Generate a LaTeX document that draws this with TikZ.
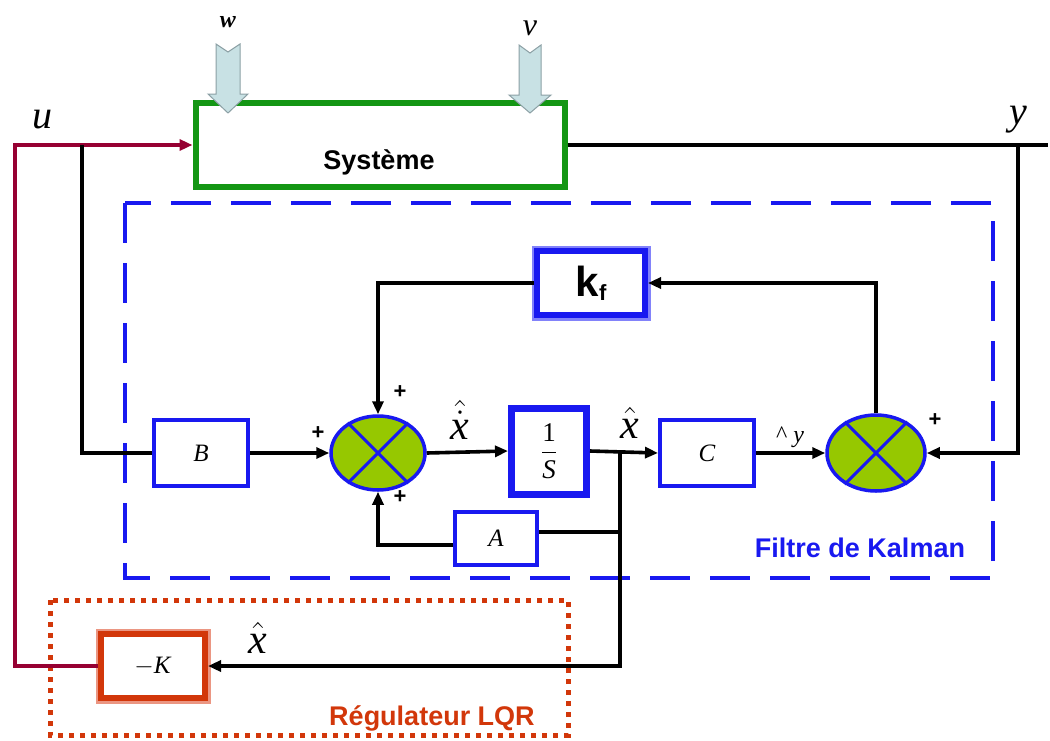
\RequirePackage{fix-cm}
\documentclass[tikz,border=0pt]{standalone}
\usepackage{amsmath}
\usepackage{fontspec}
\setmainfont{Liberation Serif}
\setsansfont{Liberation Sans}
\usetikzlibrary{arrows.meta,shapes.geometric,calc}
\definecolor{sysgreen}{RGB}{20,150,20}
\definecolor{kblue}{RGB}{25,25,240}
\definecolor{kbluelight}{RGB}{130,130,250}
\definecolor{sumgreen}{RGB}{150,200,0}
\definecolor{lqrred}{RGB}{210,55,10}
\definecolor{lqrlight}{RGB}{235,150,130}
\definecolor{ured}{RGB}{150,0,50}
\definecolor{noisefill}{RGB}{200,225,228}
\definecolor{noisedraw}{RGB}{140,160,165}
\newcommand{\xit}{\text{\itshape x}}
\begin{document}
\begin{tikzpicture}[x=1pt,y=-1pt,
 blk/.style={draw=kblue, line width=4pt, fill=white, rectangle, inner sep=0pt, font=\fontsize{25}{25}\selectfont\itshape},
 sumnode/.style={ellipse, draw=kblue, line width=3.5pt, fill=sumgreen, inner sep=0pt},
 sig/.style={line width=3.6pt, draw=black},
 arr/.style={sig, -{Triangle[length=13pt,width=11pt]}},
 plus/.style={font=\sffamily\bfseries\fontsize{22}{22}\selectfont, inner sep=0pt},
 lab/.style={font=\fontsize{42}{42}\selectfont, inner sep=0pt},
 noise/.style={draw=noisedraw, fill=noisefill, line width=1pt},
]
\useasboundingbox (0,0) rectangle (1050,740);

% frames
\draw[kblue, line width=4pt, dash pattern=on 40pt off 20pt] (125,203) rectangle (993,578);
\draw[lqrred, line width=5pt, dash pattern=on 5pt off 6pt] (50,600) rectangle (568,735);

% system
\node[draw=sysgreen, line width=6pt, minimum width=369pt, minimum height=84pt, inner sep=0pt] (sys) at (380,145) {};
\node[font=\sffamily\bfseries\fontsize{27}{27}\selectfont, inner sep=0pt] (systxt) at (379,162) {Système};

% noise arrows
\draw[noise] (216,44) -- (228,52) -- (240,44) -- (240,94) -- (248,94) -- (228,113) -- (208,94) -- (216,94) -- cycle;
\draw[noise] (519,45) -- (530,53) -- (541,45) -- (541,95) -- (551,95) -- (530,113) -- (509,95) -- (519,95) -- cycle;
\node[font=\fontsize{24}{24}\selectfont\bfseries\itshape, inner sep=0pt] (wl) at (228,22) {w};
\node[font=\fontsize{32}{32}\selectfont\itshape, inner sep=0pt] (vl) at (530,28) {v};

% blocks
\node[blk, minimum width=94pt, minimum height=66pt] (B) at (201,453) {B};
\node[sumnode, minimum width=94pt, minimum height=74pt] (s1) at (378,453) {};
\node[blk, line width=7pt, minimum width=75pt, minimum height=86pt] (integ) at (549,451) {\fontsize{27}{27}\selectfont$\displaystyle\frac{\text{\upshape 1}}{\text{\itshape S}}$};
\node[blk, minimum width=94pt, minimum height=66pt] (C) at (707,453) {C};
\node[sumnode, minimum width=98pt, minimum height=76pt] (s2) at (876,453) {};
\node[blk, minimum width=82pt, minimum height=53pt] (A) at (496,538) {A};
\node[blk, line width=6pt, preaction={draw=kbluelight, line width=11pt}, minimum width=108pt, minimum height=64pt, font=\sffamily\bfseries\fontsize{42}{42}\selectfont] (kf) at (591,283) {k\raisebox{-4pt}{\fontsize{22}{22}\selectfont f}};
\node[blk, draw=lqrred, line width=6pt, preaction={draw=lqrlight, line width=11pt}, minimum width=104pt, minimum height=64pt, font=\fontsize{25}{25}\selectfont] (mk) at (153,666) {$-$\textit{K}};

\foreach \s in {s1,s2} {
  \draw[kblue, line width=3pt] (\s.45) -- (\s.225);
  \draw[kblue, line width=3pt] (\s.135) -- (\s.315);
}

% coordinates
\coordinate (ucorner) at (15,145);
\coordinate (ubr) at (82,145);
\coordinate (ybr) at (1018,145);
\coordinate (yend) at (1048,145);
\coordinate (j1) at (620,453);

% connections
\draw[ured, line width=3.6pt, -{Triangle[length=13pt,width=11pt]}] (mk.west) -| (ucorner) -- (sys.west);
\draw[sig] (ubr) |- (B.west);
\draw[sig] (sys.east) -- (yend);
\draw[arr] (ybr) |- (s2.east);
\draw[arr] (s2.north) |- (kf.east);
\draw[arr] (kf.west) -| (s1.north);
\draw[arr] (B.east) -- (s1.west);
\draw[arr] (s1.east) -- (integ.west);
\draw[arr] (integ.east) -- (C.west);
\draw[arr] (C.east) -- (s2.west);
\draw[arr] (j1) |- (mk.east);
\draw[sig] ([yshift=6pt]A.east) -- ([yshift=6pt]A.east -| j1);
\draw[arr] ([yshift=-7pt]A.west) -| (s1.south);

% signs and labels
\node[plus] (p1) at (318,433) {+};
\node[plus] (p2) at (400,392) {+};
\node[plus] (p3) at (400,497) {+};
\node[plus] (p4) at (935,420) {+};
\node[lab] (xdot) at (460,420) {$\hat{\dot{\xit}}$};
\node[lab] (xh1) at (630,423) {$\hat{\xit}$};
\node[lab] (xh2) at (258,638) {$\hat{\xit}$};
\node[font=\fontsize{24}{24}\selectfont, inner sep=0pt] (yh) at (790,437) {\^{} \textit{y}};
\node[lab, font=\fontsize{40}{40}\selectfont\itshape] (ul) at (42,120) {u};
\node[lab, font=\fontsize{40}{40}\selectfont\itshape] (yl) at (1018,120) {y};
\node[font=\sffamily\bfseries\fontsize{27}{27}\selectfont, text=kblue, inner sep=0pt] (kal) at (860,548) {Filtre de Kalman};
\node[font=\sffamily\bfseries\fontsize{27}{27}\selectfont, text=lqrred, inner sep=0pt] (lqr) at (432,718) {Régulateur LQR};
\end{tikzpicture}
\end{document}
